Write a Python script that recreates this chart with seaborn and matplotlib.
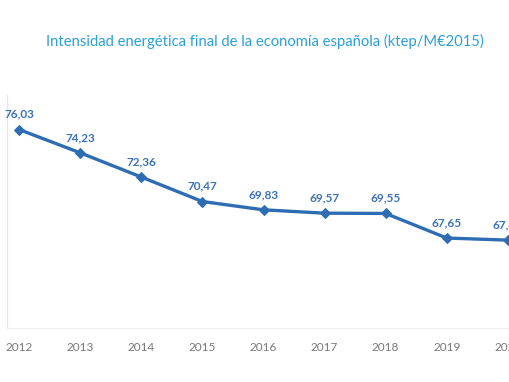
import matplotlib
matplotlib.use("Agg")
import matplotlib.pyplot as plt
import seaborn as sns
import pandas as pd

# Data
years = [2012, 2013, 2014, 2015, 2016, 2017, 2018, 2019, 2020]
values = [76.03, 74.23, 72.36, 70.47, 69.83, 69.57, 69.55, 67.65, 67.49]
labels = ["76,03", "74,23", "72,36", "70,47", "69,83", "69,57", "69,55", "67,65", "67,49"]

df = pd.DataFrame({"year": years, "value": values})

sns.set_style("white")
plt.rcParams["font.family"] = ["Lato", "DejaVu Sans"]

fig = plt.figure(figsize=(5.1, 3.82), dpi=100)
# axes runs off the right edge like the cropped original
ax = fig.add_axes([7 / 510, 54 / 382, 513 / 510, 233 / 382])

line_col = "#2f6db3"
sns.lineplot(data=df, x="year", y="value", ax=ax, color=line_col,
             linewidth=2.4, marker="D", markersize=5,
             markeredgecolor=line_col, clip_on=False)

for x, y, t in zip(years, values, labels):
    ax.annotate(t, (x, y), xytext=(0, 7), textcoords="offset points",
                ha="center", va="bottom", fontsize=8.5, fontweight="bold",
                color="#3b72b5")

ax.set_xlim(2011.8, 2020.2)
ax.set_ylim(60.7, 78.7)
ax.set_xticks(years)
ax.set_xticklabels([str(y) for y in years], color="#777777", fontsize=8.5)
ax.set_yticks([])
ax.set_xlabel("")
ax.set_ylabel("")
ax.tick_params(axis="x", length=0, pad=10)

for s in ["top", "right"]:
    ax.spines[s].set_visible(False)
ax.spines["left"].set_color("#e6e6e6")
ax.spines["bottom"].set_color("#eeeeee")

fig.text(265 / 510, 1 - 41 / 382,
         "Intensidad energética final de la economía española (ktep/M€2015)",
         ha="center", va="center", fontsize=10.6, color="#2a9fd8")

fig.savefig("out.png", dpi=100)
